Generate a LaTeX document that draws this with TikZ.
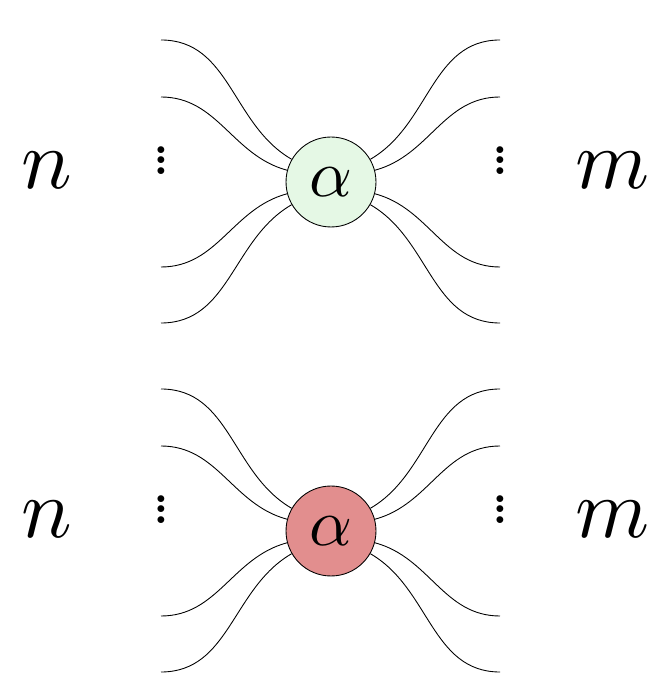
\documentclass[tikz,border=0pt]{standalone}
\usetikzlibrary{positioning}
\definecolor{zgreen}{RGB}{229,248,229}
\definecolor{xred}{RGB}{226,142,142}
\newcommand{\bigsym}[2]{\scalebox{#1}{$#2$}}
\newcommand{\legdots}{\vbox{\baselineskip=6.2pt \lineskiplimit=-10pt
  \hbox{$\bullet$}\hbox{$\bullet$}\hbox{$\bullet$}}}

\begin{document}
\begin{tikzpicture}[
    x=0.02cm, y=0.02cm,
    line width=0.5pt,
    spider/.style={circle, draw=black, minimum size=1.8cm, inner sep=0pt},
    dots/.style={inner sep=0pt}
]
\useasboundingbox (0,0) rectangle (661,676);

% top spider
\node[spider, fill=zgreen] (za) at (331,494) {\bigsym{3.8}{\alpha}};
\node (zn) at (47,506) {\bigsym{4.8}{n}};
\node (zm) at (613,506) {\bigsym{4.8}{m}};
\node[dots] (zl) at (161,515) {\legdots};
\node[dots] (zr) at (500,515) {\legdots};

% bottom spider
\node[spider, fill=xred] (xa) at (331,145) {\bigsym{3.8}{\alpha}};
\node (xn) at (47,157) {\bigsym{4.8}{n}};
\node (xm) at (613,157) {\bigsym{4.8}{m}};
\node[dots] (xl) at (161,166) {\legdots};
\node[dots] (xr) at (500,166) {\legdots};

% legs
\foreach \s/\dy in {z/349, x/0} {
  \foreach \i/\y/\a in {1/287/150, 2/230/165, 3/60/195, 4/4/210} {
    \coordinate (\s l\i) at (161,\y+\dy);
    \coordinate (\s r\i) at (500,\y+\dy);
    \draw (\s l\i) to[out=0, in=\a] (\s a.\a);
    \draw (\s r\i) to[out=180, in=180-\a] (\s a.{180-\a});
  }
}
\end{tikzpicture}
\end{document}
